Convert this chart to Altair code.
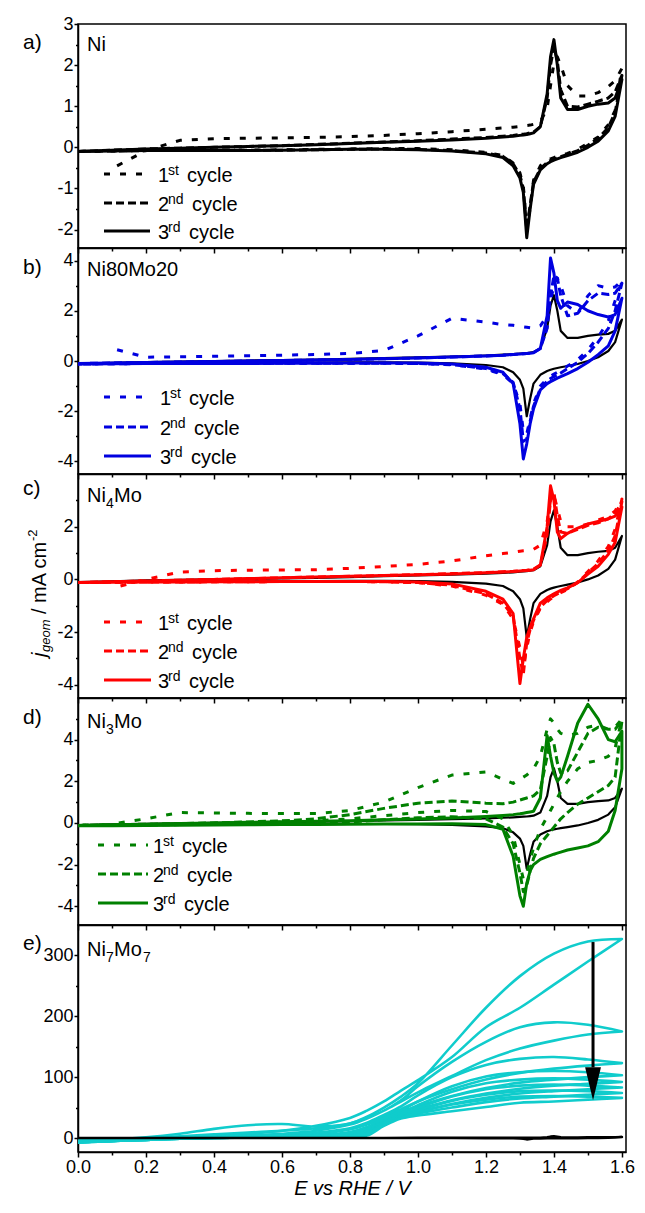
import altair as alt
import pandas as pd

FONT = "Liberation Sans, Arial, Helvetica, sans-serif"
NARROW = "Liberation Sans Narrow, Arial Narrow, Liberation Sans, Arial, sans-serif"

BLACK = "#000000"
BLUE = "#0000E0"
RED = "#FF0000"
GREEN = "#008000"
CYAN = "#10CCCC"

# ---------------- potential grid for panels a-d (V vs RHE) ----------------
E_GRID = [0.0, 0.1, 0.2, 0.3, 0.4, 0.5, 0.6, 0.7, 0.8, 0.9, 1.0,
          1.1, 1.2, 1.25, 1.28, 1.30, 1.31, 1.32, 1.33, 1.34, 1.36, 1.38,
          1.39, 1.40, 1.41, 1.42, 1.44, 1.47, 1.50, 1.53, 1.56, 1.58, 1.60]

# ---- a) Ni ----
NI_1ST_START_E = [0.115]
NI_1ST_START_J = [-0.45]
NI_1ST_ANO = [None, None, -0.08, 0.17, 0.21, 0.22, 0.23, 0.24, 0.26, 0.29, 0.33,
              0.38, 0.44, 0.47, 0.49, 0.51, 0.52, 0.53, 0.54, 0.56, 0.62, 0.95,
              1.50, 2.05, 2.20, 2.00, 1.50, 1.25, 1.25, 1.33, 1.48, 1.62, 1.92]
NI_1ST_CAT = [-0.10, -0.09, -0.08, -0.08, -0.07, -0.07, -0.06, -0.05, -0.04, -0.03, -0.03,
              -0.06, -0.12, -0.20, -0.38, -0.62, -0.95, -1.90, -1.50, -0.80, -0.45, -0.32,
              -0.28, -0.25, -0.22, -0.20, -0.15, -0.05, 0.10, 0.25, 0.55, 0.90, 1.92]
NI_2ND_ANO = [-0.10, -0.07, -0.04, -0.02, 0.00, 0.02, 0.04, 0.07, 0.10, 0.13, 0.16,
              0.20, 0.24, 0.27, 0.29, 0.31, 0.32, 0.33, 0.35, 0.37, 0.50, 1.20,
              2.00, 2.45, 2.10, 1.40, 1.00, 0.98, 1.05, 1.12, 1.20, 1.35, 1.75]
NI_2ND_CAT = [-0.10, -0.09, -0.08, -0.08, -0.08, -0.07, -0.07, -0.06, -0.05, -0.04, -0.05,
              -0.08, -0.14, -0.22, -0.40, -0.68, -1.00, -2.00, -1.40, -0.85, -0.52, -0.37,
              -0.32, -0.29, -0.26, -0.23, -0.17, -0.08, 0.05, 0.22, 0.48, 0.85, 1.75]
NI_3RD_ANO = [-0.10, -0.07, -0.04, -0.02, 0.00, 0.02, 0.04, 0.06, 0.09, 0.12, 0.15,
              0.18, 0.22, 0.25, 0.27, 0.29, 0.30, 0.31, 0.33, 0.35, 0.50, 1.30,
              2.20, 2.62, 2.00, 1.20, 0.92, 0.92, 1.00, 1.05, 1.08, 1.20, 1.65]
NI_3RD_CAT = [-0.10, -0.09, -0.08, -0.08, -0.08, -0.08, -0.07, -0.06, -0.05, -0.05, -0.06,
              -0.09, -0.16, -0.25, -0.45, -0.75, -1.10, -2.20, -1.50, -0.90, -0.55, -0.40,
              -0.35, -0.31, -0.28, -0.25, -0.20, -0.12, 0.00, 0.15, 0.40, 0.75, 1.65]

# ---- b) Ni80Mo20 ----
B_1ST_START_E = [0.115]
B_1ST_START_J = [0.45]
B_1ST_ANO = [None, None, 0.15, 0.17, 0.19, 0.21, 0.23, 0.26, 0.30, 0.42, 1.00,
             1.70, 1.55, 1.45, 1.42, 1.38, 1.36, 1.34, 1.32, 1.31, 1.40, 1.80,
             2.40, 3.00, 3.30, 3.00, 2.20, 1.90, 2.60, 3.00, 2.90, 2.95, 3.20]
B_1ST_CAT = [-0.12, -0.11, -0.10, -0.10, -0.10, -0.10, -0.09, -0.09, -0.09, -0.09, -0.10,
             -0.15, -0.32, -0.55, -0.90, -1.70, -2.80, -2.90, -2.30, -1.70, -1.00, -0.70,
             -0.60, -0.52, -0.45, -0.38, -0.20, 0.05, 0.45, 0.95, 1.60, 2.40, 3.20]
B_2ND_ANO = [-0.10, -0.08, -0.06, -0.04, -0.02, 0.00, 0.02, 0.04, 0.06, 0.09, 0.12,
             0.16, 0.20, 0.23, 0.26, 0.28, 0.29, 0.30, 0.32, 0.34, 0.50, 1.30,
             2.60, 3.40, 3.30, 2.60, 1.80, 1.90, 2.40, 2.70, 2.65, 2.70, 3.10]
B_2ND_CAT = [-0.12, -0.11, -0.10, -0.10, -0.10, -0.10, -0.09, -0.09, -0.09, -0.09, -0.10,
             -0.14, -0.30, -0.50, -0.85, -1.90, -3.20, -3.10, -2.40, -1.80, -1.10, -0.80,
             -0.70, -0.62, -0.55, -0.48, -0.30, -0.05, 0.30, 0.75, 1.30, 2.00, 3.10]
B_3RD_ANO = [-0.10, -0.08, -0.06, -0.04, -0.02, 0.00, 0.02, 0.04, 0.06, 0.09, 0.12,
             0.16, 0.20, 0.23, 0.26, 0.28, 0.29, 0.30, 0.31, 0.33, 0.50, 1.80,
             4.10, 3.50, 2.40, 2.10, 2.35, 2.25, 2.00, 1.85, 1.75, 1.85, 2.50]
B_3RD_CAT = [-0.12, -0.11, -0.10, -0.10, -0.10, -0.10, -0.09, -0.09, -0.08, -0.08, -0.08,
             -0.12, -0.25, -0.45, -0.90, -2.50, -3.90, -3.30, -2.50, -1.90, -1.15, -0.90,
             -0.82, -0.75, -0.68, -0.62, -0.50, -0.30, -0.05, 0.25, 0.60, 1.20, 2.50]

# ---- c) Ni4Mo ----
C_1ST_START_E = [0.125]
C_1ST_START_J = [-0.25]
C_1ST_ANO = [None, None, 0.00, 0.28, 0.33, 0.35, 0.36, 0.37, 0.42, 0.49, 0.57,
             0.70, 0.90, 0.98, 1.03, 1.07, 1.09, 1.10, 1.12, 1.14, 1.30, 2.20,
             3.00, 3.20, 2.70, 2.20, 2.00, 2.00, 2.10, 2.25, 2.40, 2.60, 3.05]
C_1ST_CAT = [-0.12, -0.11, -0.10, -0.10, -0.09, -0.09, -0.08, -0.08, -0.08, -0.09, -0.12,
             -0.25, -0.60, -0.95, -1.50, -2.60, -3.30, -2.60, -2.00, -1.60, -1.10, -0.85,
             -0.74, -0.66, -0.58, -0.50, -0.38, -0.10, 0.30, 0.70, 1.25, 1.90, 3.05]
C_2ND_ANO = [-0.12, -0.09, -0.06, -0.03, 0.00, 0.03, 0.06, 0.09, 0.12, 0.15, 0.18,
             0.22, 0.26, 0.29, 0.31, 0.33, 0.34, 0.35, 0.37, 0.39, 0.55, 1.70,
             3.00, 3.30, 2.40, 1.80, 1.75, 1.90, 2.05, 2.15, 2.30, 2.50, 2.95]
C_2ND_CAT = [-0.12, -0.11, -0.10, -0.10, -0.09, -0.09, -0.08, -0.08, -0.08, -0.09, -0.12,
             -0.22, -0.55, -0.90, -1.40, -3.00, -3.60, -2.40, -1.90, -1.55, -1.05, -0.80,
             -0.70, -0.62, -0.55, -0.48, -0.35, -0.12, 0.25, 0.60, 1.10, 1.65, 2.95]
C_3RD_ANO = [-0.12, -0.09, -0.06, -0.03, 0.00, 0.03, 0.06, 0.09, 0.12, 0.15, 0.18,
             0.21, 0.25, 0.28, 0.30, 0.32, 0.33, 0.34, 0.35, 0.37, 0.55, 2.00,
             3.55, 3.00, 1.80, 1.55, 1.75, 1.95, 2.10, 2.20, 2.30, 2.40, 2.75]
C_3RD_CAT = [-0.12, -0.11, -0.10, -0.10, -0.09, -0.09, -0.08, -0.08, -0.08, -0.08, -0.10,
             -0.17, -0.45, -0.75, -1.30, -3.95, -3.00, -2.20, -1.80, -1.50, -0.90, -0.70,
             -0.62, -0.55, -0.48, -0.42, -0.32, -0.12, 0.20, 0.50, 0.95, 1.40, 2.75]

# ---- d) Ni3Mo ----
D_1ST_START_E = [0.12]
D_1ST_START_J = [0.0]
D_1ST_ANO = [None, None, 0.20, 0.50, 0.48, 0.46, 0.45, 0.45, 0.60, 1.00, 1.70,
             2.30, 2.45, 2.10, 1.90, 2.10, 2.20, 2.30, 2.45, 2.60, 3.20, 4.50,
             5.00, 4.80, 4.50, 4.30, 4.20, 4.30, 4.60, 4.70, 4.50, 4.60, 5.00]
D_1ST_CAT = [-0.10, -0.09, -0.07, -0.05, -0.02, 0.00, 0.05, 0.10, 0.20, 0.35, 0.50,
             0.60, 0.55, 0.20, -0.60, -2.00, -2.70, -2.40, -1.80, -1.20, -0.30, 0.30,
             0.60, 0.90, 1.20, 1.50, 2.00, 2.60, 2.90, 3.00, 3.20, 3.60, 5.00]
D_2ND_ANO = [-0.12, -0.09, -0.06, -0.03, 0.00, 0.05, 0.10, 0.20, 0.40, 0.70, 0.95,
             1.05, 0.95, 0.92, 1.00, 1.10, 1.15, 1.20, 1.25, 1.30, 1.60, 3.20,
             4.10, 3.80, 2.90, 2.40, 2.50, 3.40, 4.30, 4.60, 4.50, 4.50, 4.90]
D_2ND_CAT = [-0.12, -0.11, -0.10, -0.08, -0.05, -0.02, 0.00, 0.00, 0.05, 0.15, 0.25,
             0.30, 0.20, -0.20, -1.00, -2.40, -3.30, -3.00, -2.30, -1.70, -1.00, -0.60,
             -0.40, -0.20, 0.00, 0.20, 0.50, 0.90, 1.20, 1.50, 1.80, 2.20, 4.90]
D_3RD_ANO = [-0.12, -0.09, -0.06, -0.03, 0.00, 0.03, 0.06, 0.08, 0.11, 0.15, 0.19,
             0.24, 0.31, 0.36, 0.40, 0.44, 0.47, 0.50, 0.53, 0.56, 1.20, 4.20,
             3.20, 2.40, 2.00, 2.20, 3.20, 4.80, 5.70, 5.00, 4.00, 3.90, 4.40]
D_3RD_CAT = [-0.14, -0.13, -0.12, -0.11, -0.10, -0.09, -0.08, -0.07, -0.06, -0.05, -0.05,
             -0.04, -0.08, -0.30, -1.60, -3.50, -4.00, -2.90, -2.30, -2.00, -1.75, -1.62,
             -1.56, -1.50, -1.45, -1.40, -1.30, -1.20, -1.10, -0.90, -0.40, 0.60, 2.60]

# ---- e) Ni7Mo7 (successive cycles, decreasing) ----
E_GRID_E = [0.0, 0.1, 0.2, 0.3, 0.4, 0.5, 0.6, 0.7, 0.8, 0.85, 0.9, 0.95, 1.0,
            1.1, 1.2, 1.3, 1.4, 1.5, 1.6]
E_CYC1_ANO = [-5, -3, 1, 7, 15, 21, 23, 19, 24, 35, 50, 68, 90, 152, 214, 266, 303, 323, 327]
E_CYC1_CAT = [-7, -5, -2, 1, 4, 7, 12, 20, 33, 45, 60, 78, 95, 133, 182, 214, 252, 290, 327]
E_CYC2_ANO = [-5, -3, 0, 3, 6, 9, 12, 16, 24, 33, 45, 62, 85, 125, 158, 182, 190, 186, 175]
E_CYC2_CAT = [-7, -5, -2, 0, 2, 4, 7, 12, 22, 32, 45, 60, 75, 102, 128, 147, 160, 170, 175]
E_CYC3_ANO = [-5, -3, -1, 1, 3, 4, 6, 9, 16, 25, 38, 52, 70, 100, 120, 130, 133, 129, 123]
E_CYC3_CAT = [-7, -5, -2, 0, 1, 2, 4, 7, 14, 22, 34, 47, 60, 80, 96, 107, 114, 119, 123]
E_CYC4_ANO = [-5, -3, -1, 0, 1, 2, 3, 5, 10, 18, 32, 45, 60, 85, 101, 108, 110, 108, 103]
E_CYC4_CAT = [-7, -5, -3, -1, 0, 1, 2, 4, 9, 17, 30, 42, 52, 69, 82, 91, 96, 100, 103]
E_CYC5_ANO = [-5, -3, -1, 0, 1, 2, 3, 4, 7, 14, 28, 41, 54, 76, 90, 96, 98, 96, 92]
E_CYC5_CAT = [-7, -5, -3, -1, 0, 1, 2, 3, 6, 13, 27, 39, 47, 62, 73, 81, 86, 89, 92]
E_CYC6_ANO = [-5, -3, -1, 0, 1, 2, 3, 4, 5, 11, 26, 38, 49, 68, 80, 86, 88, 86, 83]
E_CYC6_CAT = [-7, -5, -3, -1, 0, 1, 2, 3, 4, 9, 24, 36, 43, 56, 66, 73, 77, 80, 83]
E_CYC7_ANO = [-5, -3, -1, 0, 1, 2, 3, 4, 4, 9, 24, 35, 45, 61, 71, 77, 78, 77, 74]
E_CYC7_CAT = [-7, -5, -3, -1, 0, 1, 2, 2, 3, 7, 22, 34, 40, 50, 59, 65, 68, 71, 74]
E_CYC8_ANO = [-5, -3, -1, 0, 1, 2, 3, 3, 3, 8, 22, 33, 42, 55, 63, 68, 69, 68, 66]
E_CYC8_CAT = [-7, -5, -3, -1, 0, 1, 1, 1, 1, 4, 20, 32, 37, 44, 51, 58, 60, 63, 66]

ARROW_E = [1.515]
ARROW_TOP = [322]
ARROW_BASE = [116]
ARROW_MID = [89]

X_MAX = 1.612
X_MAJOR = [0.0, 0.2, 0.4, 0.6, 0.8, 1.0, 1.2, 1.4, 1.6]
X_MINOR = [0.1, 0.3, 0.5, 0.7, 0.9, 1.1, 1.3, 1.5]
PLOT_W = 548

DOTTED = [6, 10]
DASHED = [8, 4]


def loop_df(grid, ano, cat, start_e=(), start_j=()):
    pts = list(zip(start_e, start_j))
    pts += [(e, v) for e, v in zip(grid, ano) if v is not None]
    pts += [(e, v) for e, v in zip(grid[::-1], cat[::-1]) if v is not None]
    return pd.DataFrame({"E": [p[0] for p in pts], "j": [p[1] for p in pts],
                         "k": list(range(len(pts)))})


def txt(s, x, y, size, style="normal", angle=0, color="black", font=FONT):
    return alt.Chart(pd.DataFrame({"t": [s]})).mark_text(
        align="left", baseline="alphabetic", fontSize=size, fontStyle=style,
        font=font, angle=angle, color=color
    ).encode(x=alt.value(x), y=alt.value(y), text="t:N")


def seg(x1, x2, y, color, dash):
    kw = dict(color=color, strokeWidth=3)
    if dash:
        kw["strokeDash"] = dash
    return alt.Chart(pd.DataFrame({"t": [0]})).mark_rule(**kw).encode(
        x=alt.value(x1), x2=alt.value(x2), y=alt.value(y))


def legend(color, x_line0, x_line1, x_num, rows):
    out = []
    items = [("1", "st", 29, DOTTED), ("2", "nd", 34, DASHED), ("3", "rd", 31, None)]
    for (num, sup, cyc_dx, dash), ry in zip(items, rows):
        out.append(seg(x_line0, x_line1, ry, color, dash))
        out.append(txt(num, x_num, ry + 8, 20))
        out.append(txt(sup, x_num + 10, ry + 1, 14))
        out.append(txt("cycle", x_num + cyc_dx, ry + 8, 20))
    return out


def panel(curves, y_domain, y_major, y_minor, height, last, extras, interp="linear"):
    xs = alt.Scale(domain=[0, X_MAX], nice=False, zero=False)
    ys = alt.Scale(domain=y_domain, nice=False, zero=False)
    x_axis = alt.Axis(values=X_MAJOR, tickSize=5, labels=last, orient="bottom",
                      title="E vs RHE / V" if last else None, labelFlush=False,
                      labelOverlap=False, labelExpr="format(datum.value, '.1f')",
                      labelPadding=1)
    y_axis = alt.Axis(values=y_major, tickSize=4, orient="left", title=None,
                      labelFlush=False, labelOverlap=False,
                      labelExpr="'' + datum.value", labelPadding=1)
    layers = []
    for i, (df, color, width, dash) in enumerate(curves):
        kw = dict(color=color, strokeWidth=width, clip=True, strokeJoin="round")
        if dash:
            kw["strokeDash"] = dash
        if color == CYAN:
            kw["interpolate"] = interp
        X = alt.X("E:Q", scale=xs, axis=x_axis if i == 0 else None)
        Y = alt.Y("j:Q", scale=ys, axis=y_axis if i == 0 else None)
        layers.append(alt.Chart(df).mark_line(**kw).encode(x=X, y=Y, order="k:Q"))
    Xm = alt.X("E:Q", scale=xs, axis=alt.Axis(values=X_MINOR, tickSize=3, labels=False,
                                              domain=False, title=None, orient="bottom"))
    Ym = alt.Y("j:Q", scale=ys, axis=alt.Axis(values=y_minor, tickSize=2.5, labels=False,
                                              domain=False, title=None, orient="left"))
    layers.append(alt.Chart(curves[0][0]).mark_line(opacity=0).encode(x=Xm, y=Ym, order="k:Q"))
    for ex in extras:
        if callable(ex):
            layers.append(ex(xs, ys))
        else:
            layers.append(ex)
    return alt.layer(*layers).resolve_axis(x="independent", y="independent").properties(
        width=PLOT_W, height=height)


ni1 = loop_df(E_GRID, NI_1ST_ANO, NI_1ST_CAT, NI_1ST_START_E, NI_1ST_START_J)
ni2 = loop_df(E_GRID, NI_2ND_ANO, NI_2ND_CAT)
ni3 = loop_df(E_GRID, NI_3RD_ANO, NI_3RD_CAT)

# a) Ni
pa = panel(
    [(ni1, BLACK, 3, DOTTED), (ni2, BLACK, 3, DASHED), (ni3, BLACK, 3, None)],
    [-2.45, 3], [-2, -1, 0, 1, 2, 3], [-1.5, -0.5, 0.5, 1.5, 2.5], 224, False,
    [txt("a)", -55, 25, 21), txt("Ni", 9, 27, 20)]
    + legend(BLACK, 26, 72, 80, [150, 179, 207]))

# b) Ni80Mo20
pb = panel(
    [(ni3, BLACK, 2.2, None),
     (loop_df(E_GRID, B_1ST_ANO, B_1ST_CAT, B_1ST_START_E, B_1ST_START_J), BLUE, 3, DOTTED),
     (loop_df(E_GRID, B_2ND_ANO, B_2ND_CAT), BLUE, 3, DASHED),
     (loop_df(E_GRID, B_3RD_ANO, B_3RD_CAT), BLUE, 3, None)],
    [-4.5, 4.5], [-4, -2, 0, 2, 4], [-3, -1, 1, 3], 226, False,
    [txt("b)", -55, 26, 21), txt("Ni80Mo20", 9, 28, 20)]
    + legend(BLUE, 26, 73, 82, [149, 179, 208]))

# c) Ni4Mo  (+ y-axis title)
ytitle = [
    txt("j", -32, 183, 20, style="italic", angle=270),
    txt("geom", -28, 178, 13, style="italic", angle=270),
    txt("/ mA cm", -32, 140, 20, angle=270),
    txt("-2", -41, 67, 13, angle=270),
]
pc = panel(
    [(ni3, BLACK, 2.2, None),
     (loop_df(E_GRID, C_1ST_ANO, C_1ST_CAT, C_1ST_START_E, C_1ST_START_J), RED, 3, DOTTED),
     (loop_df(E_GRID, C_2ND_ANO, C_2ND_CAT), RED, 3, DASHED),
     (loop_df(E_GRID, C_3RD_ANO, C_3RD_CAT), RED, 3, None)],
    [-4.5, 4], [-4, -2, 0, 2], [-3, -1, 1, 3], 224, False,
    [txt("c)", -55, 21, 21), txt("Ni", 9, 28, 20), txt("4", 28, 34, 14), txt("Mo", 36, 28, 20)]
    + legend(RED, 26, 73, 80, [148, 177, 206]) + ytitle)

# d) Ni3Mo
pd_ = panel(
    [(ni3, BLACK, 2.2, None),
     (loop_df(E_GRID, D_1ST_ANO, D_1ST_CAT, D_1ST_START_E, D_1ST_START_J), GREEN, 3, DOTTED),
     (loop_df(E_GRID, D_2ND_ANO, D_2ND_CAT), GREEN, 3, DASHED),
     (loop_df(E_GRID, D_3RD_ANO, D_3RD_CAT), GREEN, 3, None)],
    [-4.9, 6], [-4, -2, 0, 2, 4], [-3, -1, 1, 3, 5], 227, False,
    [txt("d)", -55, 26, 21), txt("Ni", 9, 30, 20), txt("3", 28, 36, 14), txt("Mo", 36, 30, 20)]
    + legend(GREEN, 20, 70, 75, [147, 176, 205]))


# e) Ni7Mo7
def arrow_rule(xs, ys):
    return alt.Chart(pd.DataFrame({"E": ARROW_E, "j": ARROW_TOP, "j2": ARROW_BASE})).mark_rule(
        color="black", strokeWidth=3).encode(
        x=alt.X("E:Q", scale=xs, axis=None), y=alt.Y("j:Q", scale=ys, axis=None), y2="j2:Q")


def arrow_head(xs, ys):
    return alt.Chart(pd.DataFrame({"E": ARROW_E, "j": ARROW_MID})).mark_point(
        shape="M -0.48 -1 L 0.48 -1 L 0 1 Z", size=1089, filled=True, color="black",
        opacity=1).encode(
        x=alt.X("E:Q", scale=xs, axis=None), y=alt.Y("j:Q", scale=ys, axis=None))


cycles_e = [(E_CYC1_ANO, E_CYC1_CAT), (E_CYC2_ANO, E_CYC2_CAT), (E_CYC3_ANO, E_CYC3_CAT),
            (E_CYC4_ANO, E_CYC4_CAT), (E_CYC5_ANO, E_CYC5_CAT), (E_CYC6_ANO, E_CYC6_CAT),
            (E_CYC7_ANO, E_CYC7_CAT), (E_CYC8_ANO, E_CYC8_CAT)]
pe = panel(
    [(loop_df(E_GRID_E, a, c), CYAN, 2.6, None) for a, c in cycles_e] + [(ni3, BLACK, 2.6, None)],
    [-23, 350], [0, 100, 200, 300], [50, 150, 250], 227, True,
    [txt("e)", -55, 25, 21), txt("Ni", 9, 31, 20), txt("7", 28, 37, 14),
     txt("Mo", 36, 31, 20), txt("7", 65, 37, 14), arrow_rule, arrow_head],
    interp="catmull-rom")

chart = alt.vconcat(pa, pb, pc, pd_, pe, spacing=0, bounds="flush").properties(
    padding={"left": 14, "top": 6, "right": 0, "bottom": 0},
    background="white",
).configure_view(
    stroke="black", strokeWidth=1.5
).configure_axis(
    grid=False, domainColor="black", domainWidth=1.5, tickColor="black", tickWidth=1.5,
    labelFont=NARROW, labelFontSize=18, labelColor="black",
    titleFont=FONT, titleFontSize=20, titleFontStyle="italic", titleFontWeight="normal",
    titleColor="black", titlePadding=2,
)

chart.save("out.html", embed_options={"renderer": "svg", "actions": False})
